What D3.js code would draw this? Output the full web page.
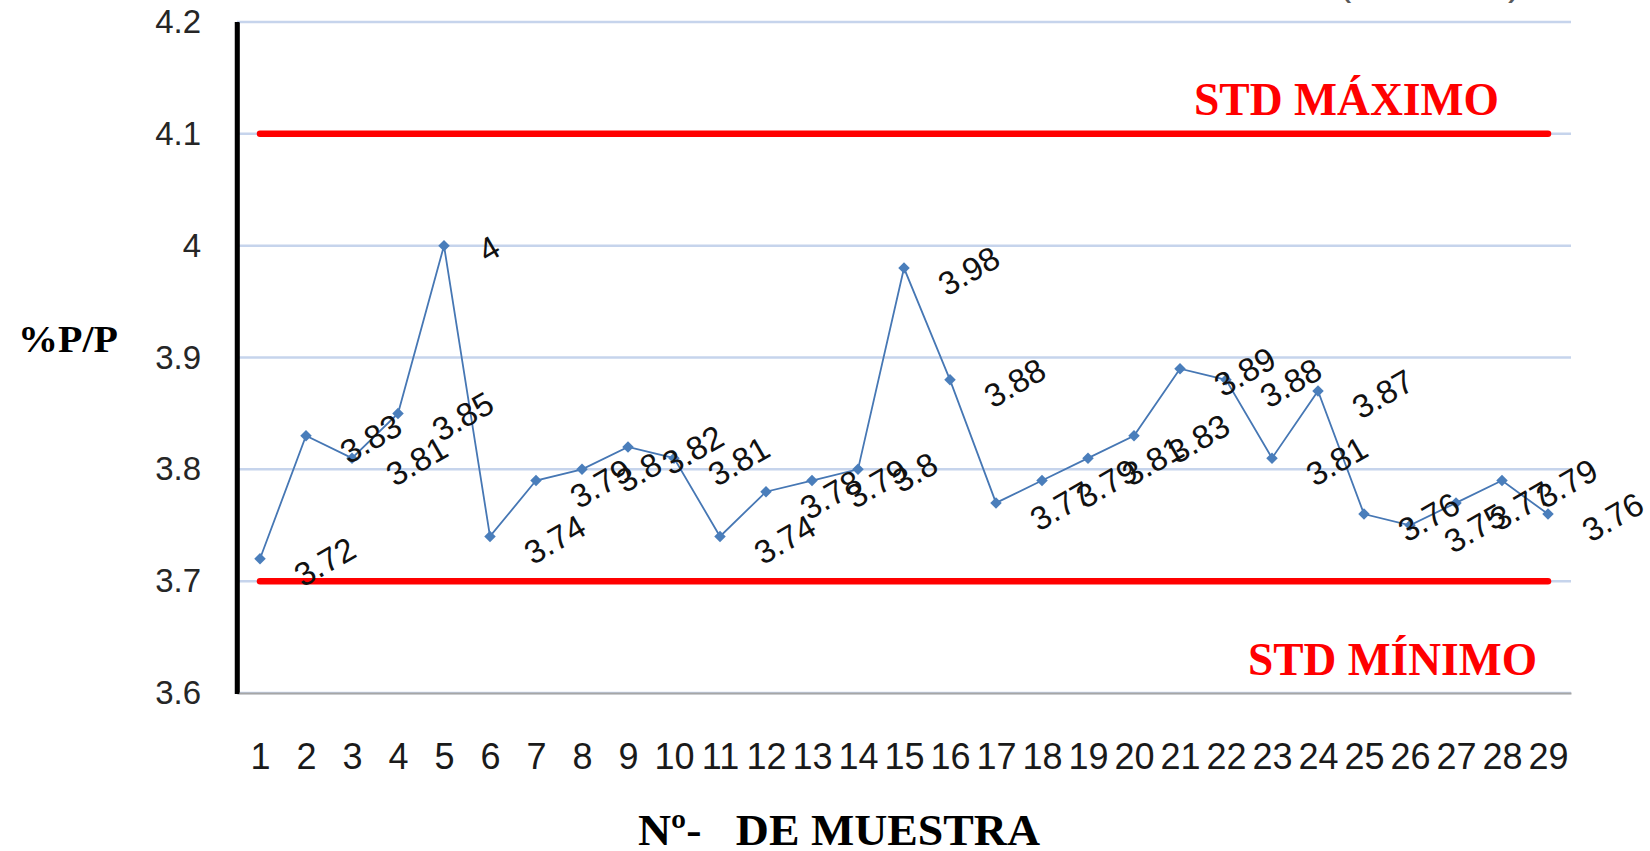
<!DOCTYPE html>
<html>
<head>
<meta charset="utf-8">
<script src="https://cdn.jsdelivr.net/npm/d3@7"></script>
<style>
  html, body { margin: 0; padding: 0; background: #ffffff; }
  svg { display: block; }
</style>
</head>
<body>
<svg id="chart" width="1650" height="851"></svg>
<script>
// Sample numbers (Nº de muestra)
const muestras = d3.range(1, 30);
// %P/P measured for each sample
const valores = [3.72, 3.83, 3.81, 3.85, 4.00, 3.74, 3.79, 3.80, 3.82, 3.81,
                 3.74, 3.78, 3.79, 3.80, 3.98, 3.88, 3.77, 3.79, 3.81, 3.83,
                 3.89, 3.88, 3.81, 3.87, 3.76, 3.75, 3.77, 3.79, 3.76];
// Standard limits
const stdMaximo = 4.1;
const stdMinimo = 3.7;
// Y axis ticks and their printed labels
const yTicks = [3.6, 3.7, 3.8, 3.9, 4.0, 4.1, 4.2];
const yTickLabels = ["3.6", "3.7", "3.8", "3.9", "4", "4.1", "4.2"];

const svg = d3.select("#chart");
const plotLeft = 237, plotRight = 1571, plotTop = 22, plotBottom = 693;

const x = d3.scalePoint().domain(muestras).range([plotLeft, plotRight]).padding(0.5);
const y = d3.scaleLinear().domain([3.6, 4.2]).range([plotBottom, plotTop]);

// horizontal gridlines
svg.append("g").selectAll("line").data(yTicks).join("line")
  .attr("x1", plotLeft).attr("x2", plotRight)
  .attr("y1", d => y(d)).attr("y2", d => y(d))
  .attr("stroke", "#c6d4ec").attr("stroke-width", 2.5);

// standard limit lines
const first = muestras[0], last = muestras[muestras.length - 1];
svg.append("g").selectAll("line").data([stdMaximo, stdMinimo]).join("line")
  .attr("x1", x(first)).attr("x2", x(last))
  .attr("y1", d => y(d)).attr("y2", d => y(d))
  .attr("stroke", "#ff0000").attr("stroke-width", 6.5)
  .attr("stroke-linecap", "round");

// data series
const pts = muestras.map((m, i) => ({ m, v: valores[i] }));
svg.append("path").datum(pts)
  .attr("fill", "none").attr("stroke", "#4677b4").attr("stroke-width", 1.8)
  .attr("d", d3.line().x(d => x(d.m)).y(d => y(d.v)));

svg.append("g").selectAll("path").data(pts).join("path")
  .attr("d", d3.symbol(d3.symbolSquare, 66))
  .attr("transform", d => `translate(${x(d.m)},${y(d.v)}) rotate(45)`)
  .attr("fill", "#4a7ebb");

// axes
const yAxis = svg.append("g").attr("transform", `translate(${plotLeft},0)`)
  .call(d3.axisLeft(y).tickValues(yTicks)
        .tickFormat((d, i) => yTickLabels[i])
        .tickSize(0).tickPadding(36));
yAxis.select(".domain").attr("stroke", "#000").attr("stroke-width", 4.5);
yAxis.selectAll("text")
  .attr("font-family", "Liberation Sans, Arial, sans-serif")
  .attr("font-size", 33).attr("fill", "#262626");

const xAxis = svg.append("g").attr("transform", `translate(0,${plotBottom})`)
  .call(d3.axisBottom(x).tickSize(0).tickPadding(50));
xAxis.select(".domain").attr("stroke", "#a6a6a6").attr("stroke-width", 2);
xAxis.selectAll("text")
  .attr("font-family", "Liberation Sans, Arial, sans-serif")
  .attr("font-size", 36).attr("fill", "#1a1a1a");

// redraw the y axis line above the x axis
svg.append("line").attr("x1", plotLeft).attr("x2", plotLeft)
  .attr("y1", plotTop).attr("y2", plotBottom + 1)
  .attr("stroke", "#000").attr("stroke-width", 4.5);

// rotated value labels, placed to the right of each point
const fs = 33, ang = 30, rad = ang * Math.PI / 180, gap = 31;
const labels = svg.append("g").selectAll("text").data(pts).join("text")
  .attr("font-family", "Liberation Sans, Arial, sans-serif")
  .attr("font-size", fs).attr("fill", "#111")
  .attr("text-anchor", "middle").attr("dominant-baseline", "central")
  .text(d => String(+d.v.toFixed(2)));
labels.each(function(d) {
  const L = this.getComputedTextLength();
  const h = 0.72 * fs;
  const w = L * Math.cos(rad) + h * Math.sin(rad);
  const cx = x(d.m) + gap + w / 2, cy = y(d.v) + 3;
  d3.select(this).attr("transform", `translate(${cx},${cy}) rotate(${-ang})`);
});

// titles
svg.append("text").attr("x", 18).attr("y", 352)
  .attr("font-family", "Liberation Serif, Times New Roman, serif")
  .attr("font-weight", "bold").attr("font-size", 37)
  .attr("textLength", 100).attr("lengthAdjust", "spacingAndGlyphs")
  .text("%P/P");

svg.append("text").attr("x", 638).attr("y", 845)
  .attr("font-family", "Liberation Serif, Times New Roman, serif")
  .attr("font-weight", "bold").attr("font-size", 44)
  .attr("textLength", 402).attr("lengthAdjust", "spacingAndGlyphs")
  .attr("xml:space", "preserve")
  .text("Nº-   DE MUESTRA");

svg.append("text").attr("x", 1194).attr("y", 115)
  .attr("font-family", "Liberation Serif, Times New Roman, serif")
  .attr("font-weight", "bold").attr("font-size", 46).attr("fill", "#ff0000")
  .attr("textLength", 305).attr("lengthAdjust", "spacingAndGlyphs")
  .text("STD MÁXIMO");

svg.append("text").attr("x", 1248).attr("y", 675)
  .attr("font-family", "Liberation Serif, Times New Roman, serif")
  .attr("font-weight", "bold").attr("font-size", 46).attr("fill", "#ff0000")
  .attr("textLength", 289).attr("lengthAdjust", "spacingAndGlyphs")
  .text("STD MÍNIMO");

// lower ends of the chart title's brackets
svg.append("g").selectAll("text").data([["(", 1338], [")", 1508]]).join("text")
  .attr("x", d => d[1]).attr("y", -5)
  .attr("font-family", "Liberation Sans, Arial, sans-serif")
  .attr("font-size", 40).attr("fill", "#595959")
  .text(d => d[0]);
</script>
</body>
</html>
